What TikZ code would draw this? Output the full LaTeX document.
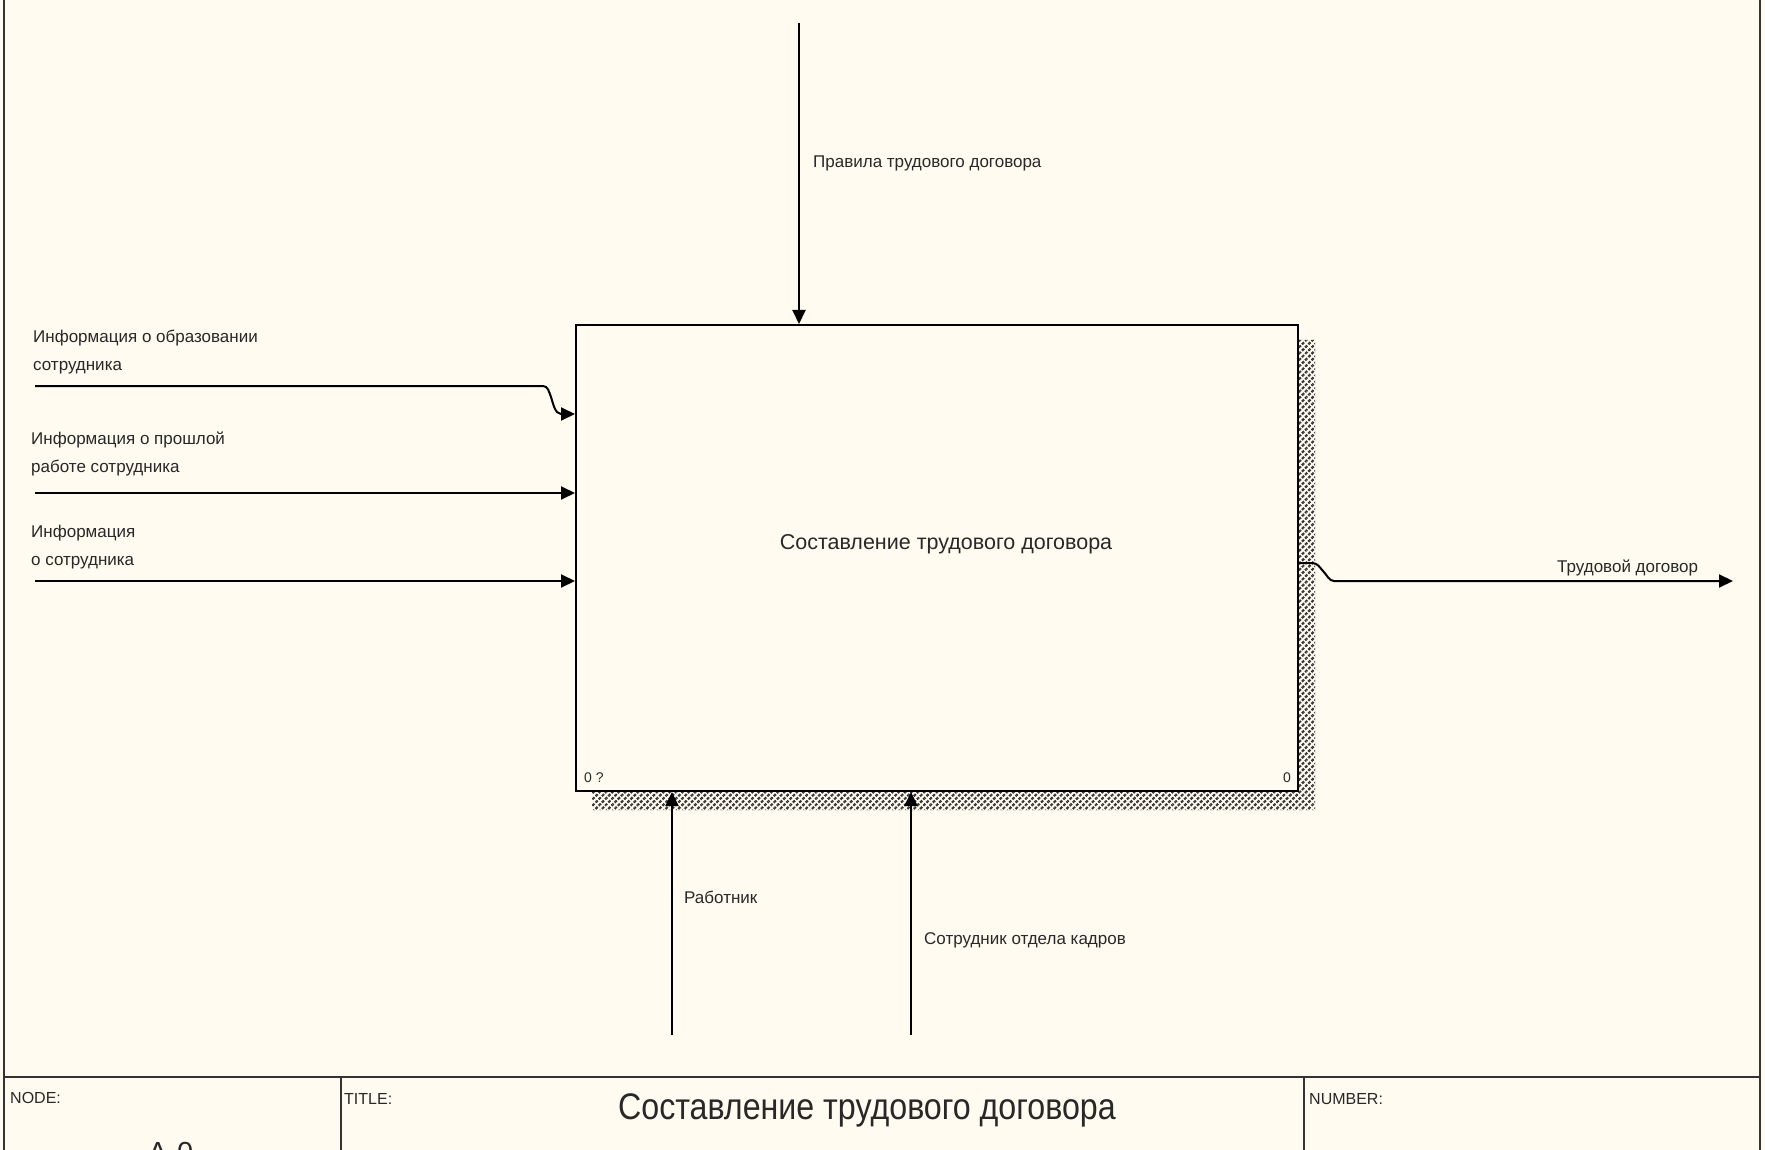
\documentclass[tikz,border=0pt]{standalone}
\usepackage{fontspec}
\setmainfont{Liberation Sans}
\newfontfamily\titlefont[FakeStretch=0.87]{Liberation Sans}
\usetikzlibrary{arrows.meta,patterns.meta}
\definecolor{paper}{RGB}{255,251,240}
\definecolor{ink}{RGB}{40,40,40}
\begin{document}
\begin{tikzpicture}[x=1pt,y=-1pt,
  lbl/.style={font=\fontsize{17}{28}\selectfont, text=ink, inner sep=0pt, align=left},
  small/.style={font=\fontsize{14}{16}\selectfont, text=ink, inner sep=0pt},
  hdr/.style={font=\fontsize{16}{18}\selectfont, text=ink, inner sep=0pt},
  arr/.style={line width=2pt, draw=black, -{Triangle[length=14pt,width=13pt]}},
  frameline/.style={line width=2pt, draw=black!80},
  shadowpath/.style={pattern={Lines[angle=45,distance=4.5pt,line width=2.2pt]}, pattern color=black!80}]
\useasboundingbox (0,0) rectangle (1765,1150);
\fill[paper] (0,0) rectangle (1765,1150);
\clip (0,0) rectangle (1765,1150);

% shadow of the activity box
\path[shadowpath] (1298,340) -- (1315,340) -- (1315,810) -- (592,810) -- (592,791) -- (1298,791) -- cycle;
\path[pattern={Lines[angle=-45,distance=4.5pt,line width=1.3pt]}, pattern color=paper]
  (1298,340) -- (1315,340) -- (1315,810) -- (592,810) -- (592,791) -- (1298,791) -- cycle;

% activity box
\node[draw, line width=2pt, fill=paper, minimum width=722pt, minimum height=466pt, inner sep=0pt] (box) at (937,558) {};
\node[font=\fontsize{21.5}{26}\selectfont, text=ink, inner sep=0pt] (boxtxt) at (946,544) {Составление трудового договора};
\node[small, anchor=west] (n0q) at (584,778) {0 ?};
\node[small] (n0) at (1287,778) {0};

% control
\coordinate (ctl) at (799,23);
\draw[arr] (ctl) -- (ctl |- box.north);
\node[lbl, anchor=west] (lctl) at (813,163) {Правила трудового договора};

% inputs
\coordinate (i1) at (35,386);
\coordinate (i1y) at (0,414);
\draw[arr] (i1) -- (543,386) .. controls (548,386) and (549,392) .. (551,397)
  .. controls (553,403) and (555,414) .. (561,414) -- (box.west |- i1y);
\node[lbl, anchor=west] (li1) at (33,352) {Информация о образовании\\сотрудника};

\coordinate (i2) at (35,493);
\draw[arr] (i2) -- (i2 -| box.west);
\node[lbl, anchor=west] (li2) at (31,454) {Информация о прошлой\\работе сотрудника};

\coordinate (i3) at (35,581);
\draw[arr] (i3) -- (i3 -| box.west);
\node[lbl, anchor=west] (li3) at (31,547) {Информация\\о сотрудника};

% mechanisms
\coordinate (m1) at (672,1035);
\draw[arr] (m1) -- (m1 |- box.south);
\node[lbl, anchor=west] (lm1) at (684,897) {Работник};
\coordinate (m2) at (911,1035);
\draw[arr] (m2) -- (m2 |- box.south);
\node[lbl, anchor=west] (lm2) at (924,940) {Сотрудник отдела кадров};

% output
\coordinate (o0) at (0,563);
\coordinate (oend) at (1733,581);
\draw[arr] (box.east |- o0) -- (1312,563) .. controls (1318,563) and (1320,568) .. (1323,571)
  .. controls (1327,575) and (1329,581) .. (1334,581) -- (oend);
\node[lbl, anchor=west] (lout) at (1557,568) {Трудовой договор};

% frame and title block
\draw[frameline] (4,0) -- (4,1150);
\draw[frameline] (1760,0) -- (1760,1150);
\draw[frameline] (4,1077) -- (1760,1077);
\draw[frameline] (341,1077) -- (341,1150);
\draw[frameline] (1304,1077) -- (1304,1150);
\node[hdr, anchor=west] (hnode) at (10,1098) {NODE:};
\node[hdr, anchor=west] (htitle) at (344,1099) {TITLE:};
\node[hdr, anchor=west] (hnum) at (1309,1099) {NUMBER:};
\node[font=\titlefont\fontsize{37}{42}\selectfont, text=ink, inner sep=0pt, anchor=base] (title) at (867,1119) {Составление трудового договора};
\node[font=\fontsize{29}{32}\selectfont, text=ink, inner sep=0pt, anchor=north west] (anum) at (148,1142) {A-0};
\end{tikzpicture}
\end{document}
